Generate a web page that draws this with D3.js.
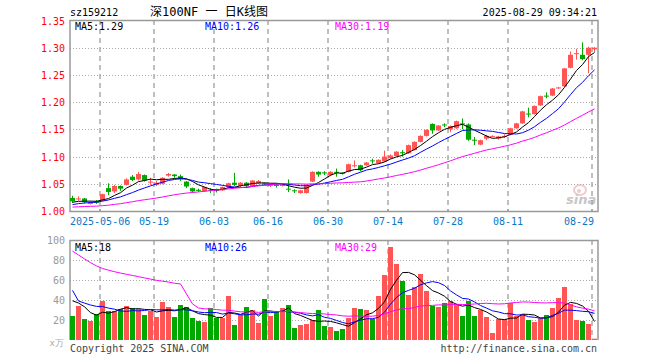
<!DOCTYPE html>
<html>
<head>
<meta charset="utf-8">
<script src="https://cdn.jsdelivr.net/npm/d3@7"></script>
<style>
body { margin: 0; background: #fff; }
text { font-family: "DejaVu Sans Mono", monospace; font-size: 10px; }
</style>
</head>
<body>
<svg id="chart" width="660" height="360"></svg>
<script>
// trading days shown (Apr 24 .. Aug 29, 2025)
const dates = [
	"04-24","04-25","04-28","04-29","04-30",
	"05-06","05-07","05-08","05-09","05-12","05-13","05-14","05-15","05-16","05-19","05-20","05-21","05-22","05-23","05-26","05-27","05-28","05-29","05-30",
	"06-03","06-04","06-05","06-06","06-09","06-10","06-11","06-12","06-13","06-16","06-17","06-18","06-19","06-20","06-23","06-24","06-25","06-26","06-27","06-30",
	"07-01","07-02","07-03","07-04","07-07","07-08","07-09","07-10","07-11","07-14","07-15","07-16","07-17","07-18","07-21","07-22","07-23","07-24","07-25","07-28","07-29","07-30","07-31",
	"08-01","08-04","08-05","08-06","08-07","08-08","08-11","08-12","08-13","08-14","08-15","08-18","08-19","08-20","08-21","08-22","08-25","08-26","08-27","08-28","08-29"
]

const open = [1.024,1.022,1.023,1.013,1.018,1.019,1.042,1.036,1.046,1.048,
	1.063,1.058,1.066,1.053,1.048,1.050,1.065,1.067,1.064,1.054,
	1.042,1.039,1.036,1.039,1.040,1.038,1.044,1.052,1.046,1.052,
	1.045,1.051,1.051,1.046,1.048,1.046,1.041,1.038,1.033,1.033,
	1.054,1.072,1.071,1.066,1.072,1.070,1.072,1.083,1.084,1.084,
	1.093,1.088,1.091,1.097,1.101,1.108,1.106,1.112,1.127,1.138,
	1.160,1.148,1.159,1.150,1.152,1.161,1.159,1.131,1.122,1.133,
	1.137,1.133,1.137,1.140,1.152,1.161,1.179,1.178,1.194,1.212,
	1.212,1.226,1.229,1.263,1.288,1.287,1.287,1.297]

const high = [1.028,1.027,1.024,1.018,1.020,1.032,1.051,1.048,1.047,1.060,
	1.066,1.072,1.067,1.061,1.055,1.062,1.070,1.068,1.067,1.055,
	1.043,1.041,1.045,1.042,1.041,1.045,1.052,1.070,1.053,1.053,
	1.057,1.057,1.052,1.050,1.049,1.050,1.058,1.040,1.039,1.049,
	1.073,1.073,1.073,1.073,1.078,1.071,1.087,1.093,1.085,1.090,
	1.096,1.095,1.111,1.104,1.110,1.112,1.122,1.128,1.139,1.150,
	1.161,1.158,1.161,1.157,1.166,1.170,1.161,1.136,1.131,1.140,
	1.139,1.138,1.141,1.153,1.162,1.184,1.190,1.194,1.212,1.218,
	1.226,1.228,1.263,1.293,1.298,1.310,1.302,1.301]

const low = [1.015,1.019,1.014,1.012,1.013,1.018,1.029,1.033,1.037,1.047,
	1.055,1.056,1.054,1.048,1.046,1.049,1.063,1.061,1.055,1.042,
	1.034,1.035,1.035,1.033,1.034,1.037,1.042,1.046,1.044,1.042,
	1.044,1.050,1.048,1.044,1.043,1.045,1.035,1.033,1.032,1.032,
	1.053,1.063,1.066,1.064,1.063,1.067,1.071,1.080,1.073,1.083,
	1.087,1.087,1.090,1.096,1.100,1.100,1.105,1.111,1.126,1.137,
	1.142,1.147,1.154,1.145,1.151,1.150,1.129,1.121,1.121,1.130,
	1.135,1.131,1.134,1.139,1.151,1.160,1.172,1.177,1.193,1.207,
	1.211,1.224,1.228,1.262,1.278,1.277,1.253,1.292]

const close = [1.018,1.023,1.017,1.016,1.015,1.031,1.035,1.046,1.041,1.058,
	1.057,1.068,1.056,1.054,1.052,1.061,1.068,1.064,1.058,1.045,
	1.036,1.037,1.044,1.038,1.037,1.044,1.051,1.048,1.052,1.046,
	1.056,1.055,1.050,1.048,1.046,1.048,1.040,1.037,1.038,1.048,
	1.072,1.067,1.069,1.072,1.070,1.069,1.086,1.084,1.075,1.089,
	1.092,1.094,1.100,1.102,1.109,1.106,1.121,1.127,1.138,1.149,
	1.148,1.157,1.158,1.156,1.165,1.160,1.131,1.130,1.130,1.138,
	1.138,1.137,1.138,1.152,1.161,1.183,1.178,1.193,1.211,1.211,
	1.225,1.227,1.262,1.287,1.290,1.279,1.300,1.300]

// volume, in 万
const volume = [24,34,21,19,26,39,29,29,31,34,
	32,31,25,29,23,38,33,23,35,33,
	22,19,18,32,22,22,44,15,25,33,
	30,17,41,24,29,32,35,12,15,16,
	20,30,14,13,9,11,22,32,31,30,
	21,44,65,93,76,59,45,53,66,49,
	34,33,37,39,36,24,39,24,30,23,
	7,21,21,37,24,26,20,18,22,25,
	32,42,53,36,20,19,16,1.3]

// 29 days before the first visible one, estimated so the MA lines start where they do
const prevClose = [1.006,1.004,1.003,1.005,1.007,1.006,1.004,1.002,1.003,1.005,
	1.006,1.008,1.007,1.005,1.004,1.003,1.005,1.006,1.004,1.005,
	1.006,1.005,1.007,1.008,1.012,1.014,1.016,1.015,1.017]
const prevVolume = [150,140,130,125,115,80,75,72,70,68,
	66,64,63,62,62,60,58,56,333,322,
	140,42,38,40,40,45,40,48,39]

const tickDates = ["05-06","05-19","06-03","06-16","06-30","07-14","07-28","08-11","08-29"]
const tickLabels = ["2025-05-06","05-19","06-03","06-16","06-30","07-14","07-28","08-11","08-29"]
const priceTicks = [1.00,1.05,1.10,1.15,1.20,1.25,1.30,1.35]
const volTicks = [20,40,60,80,100]

const maPeriods = [5,10,30]
const maColors = ["#000","#00f","#f0f"]
const priceMaText = ["MA5:1.29","MA10:1.26","MA30:1.19"]
const volMaText = ["MA5:18","MA10:26","MA30:29"]

const RED = "#ff5555", GREEN = "#00a800", GRID = "#aaa", FRAME = "#999"

const svg = d3.select("#chart")
const left = 70, right = 598
const pTop = 20, pBot = 211, vTop = 240, vBot = 340

const x = d3.scaleBand().domain(dates).range([left, right]).padding(0)
const yP = d3.scaleLinear().domain([1.00, 1.35]).range([pBot, pTop + 0.5])
const yV = d3.scaleLinear().domain([0, 100]).range([vBot, vTop])
const bw = x.bandwidth() - 1
const cx = d => x(d) + bw / 2

function movingAvg(history, values, n) {
	let all = history.concat(values), off = history.length
	return values.map((v, i) => d3.mean(all.slice(off + i - n + 1, off + i + 1)))
}

const rows = dates.map((d, i) => ({
	date: d, o: open[i], h: high[i], l: low[i], c: close[i], v: volume[i],
	up: close[i] >= open[i]
}))

// GRID

let grid = svg.append("g")
grid.selectAll(".hp")
	.data(priceTicks.slice(1, -1))
	.enter().append("line")
	.attr("x1", left).attr("x2", right)
	.attr("y1", d => Math.round(yP(d)) + 0.5).attr("y2", d => Math.round(yP(d)) + 0.5)
	.attr("stroke", GRID).attr("stroke-dasharray", "1,2")
grid.selectAll(".hv")
	.data(volTicks.slice(0, -1))
	.enter().append("line")
	.attr("x1", left).attr("x2", right)
	.attr("y1", d => Math.round(yV(d)) + 0.5).attr("y2", d => Math.round(yV(d)) + 0.5)
	.attr("stroke", GRID).attr("stroke-dasharray", "1,2")
tickDates.forEach(d => {
	[[pTop, pBot], [vTop, vBot]].forEach(r => {
		grid.append("line")
			.attr("x1", x(d)).attr("x2", x(d))
			.attr("y1", r[0]).attr("y2", r[1])
			.attr("stroke", GRID).attr("stroke-width", 1.5)
			.attr("stroke-dasharray", "5,4")
	})
})

// FRAMES

svg.append("rect")
	.attr("x", left).attr("y", pTop + 0.5)
	.attr("width", right - left).attr("height", pBot - pTop)
	.attr("fill", "none").attr("stroke", FRAME).attr("stroke-width", 1.5)
svg.append("path")
	.attr("d", `M${left},${vBot}V${vTop + 0.5}H${right}V${vBot}`)
	.attr("fill", "none").attr("stroke", FRAME).attr("stroke-width", 1.5)
svg.selectAll(".xt")
	.data(tickDates)
	.enter().append("line")
	.attr("x1", d => x(d)).attr("x2", d => x(d))
	.attr("y1", pBot - 2).attr("y2", pBot)
	.attr("stroke", FRAME)

// sina watermark
let wm = svg.append("g").attr("opacity", 0.55)
wm.append("ellipse").attr("cx", 580).attr("cy", 190).attr("rx", 6).attr("ry", 5)
	.attr("fill", "none").attr("stroke", "#e8a0a0").attr("stroke-width", 2)
wm.append("circle").attr("cx", 579).attr("cy", 191).attr("r", 2).attr("fill", "#e8a0a0")
wm.append("text").attr("x", 566).attr("y", 204)
	.style("font-family", "'DejaVu Sans', sans-serif").style("font-size", "13px")
	.style("font-weight", "bold").style("font-style", "italic")
	.attr("fill", "#999").text("sina")

// CANDLES

let candles = svg.append("g")
	.selectAll("g")
	.data(rows)
	.enter().append("g")
candles.append("line")
	.attr("x1", d => Math.floor(cx(d.date)) + 0.5).attr("x2", d => Math.floor(cx(d.date)) + 0.5)
	.attr("y1", d => yP(d.h)).attr("y2", d => yP(d.l))
	.attr("stroke", d => d.up ? RED : GREEN)
candles.append("rect")
	.attr("x", d => x(d.date))
	.attr("width", bw)
	.attr("y", d => yP(Math.max(d.o, d.c)))
	.attr("height", d => Math.max(1, Math.abs(yP(d.o) - yP(d.c))))
	.attr("fill", d => d.up ? RED : GREEN)

// VOLUME

svg.append("g")
	.selectAll("rect")
	.data(rows)
	.enter().append("rect")
	.attr("x", d => x(d.date))
	.attr("width", bw)
	.attr("y", d => yV(d.v))
	.attr("height", d => vBot - yV(d.v))
	.attr("fill", d => d.up ? RED : GREEN)

// MOVING AVERAGES

maPeriods.forEach((n, k) => {
	let pm = movingAvg(prevClose, close, n)
	let vm = movingAvg(prevVolume, volume, n)
	svg.append("path")
		.datum(pm)
		.attr("fill", "none").attr("stroke", maColors[k]).attr("stroke-width", 1)
		.attr("d", d3.line().x((v, i) => cx(dates[i])).y(v => yP(v)))
	svg.append("path")
		.datum(vm)
		.attr("fill", "none").attr("stroke", maColors[k]).attr("stroke-width", 1)
		.attr("d", d3.line().x((v, i) => cx(dates[i])).y(v => yV(v)))
	svg.append("text").attr("x", 75 + k * 130).attr("y", 30)
		.attr("fill", maColors[k]).text(priceMaText[k])
	svg.append("text").attr("x", 75 + k * 130).attr("y", 251)
		.attr("fill", maColors[k]).text(volMaText[k])
})

// AXIS LABELS

svg.selectAll(".pl")
	.data(priceTicks)
	.enter().append("text")
	.attr("x", 65).attr("y", d => yP(d) + 4)
	.attr("text-anchor", "end").attr("fill", "#f00")
	.text(d => d3.format(".2f")(d))
svg.selectAll(".vl")
	.data(volTicks)
	.enter().append("text")
	.attr("x", 65).attr("y", d => yV(d) + 4)
	.attr("text-anchor", "end").attr("fill", "#999")
	.text(d => d)
svg.append("text").attr("x", 64).attr("y", 346)
	.attr("text-anchor", "end").attr("fill", "#aaa").style("font-size", "9px").text("x万")

svg.selectAll(".xl")
	.data(tickDates)
	.enter().append("text")
	.attr("x", (d, i) => i == 0 ? left : i == tickDates.length - 1 ? x(d) + 2 : x(d))
	.attr("y", 225)
	.attr("text-anchor", (d, i) => i == 0 ? "start" : i == tickDates.length - 1 ? "end" : "middle")
	.attr("fill", "#0a78c8")
	.text((d, i) => tickLabels[i])

// TITLE ROW

svg.append("text").attr("x", 70).attr("y", 16).attr("fill", "#000").text("sz159212")
svg.append("text").attr("x", 209).attr("y", 16).attr("text-anchor", "middle")
	.style("font-family", "'DejaVu Sans Mono', 'Noto Sans CJK SC', monospace")
	.style("font-size", "12px").attr("fill", "#000").text("深100NF 一 日K线图")
svg.append("text").attr("x", 597).attr("y", 16).attr("text-anchor", "end")
	.attr("fill", "#000").text("2025-08-29 09:34:21")

svg.append("text").attr("x", 70).attr("y", 352).attr("fill", "#444").text("Copyright 2025 SINA.COM")
svg.append("text").attr("x", 597).attr("y", 352).attr("text-anchor", "end")
	.attr("fill", "#444").text("http://finance.sina.com.cn")
</script>
</body>
</html>
